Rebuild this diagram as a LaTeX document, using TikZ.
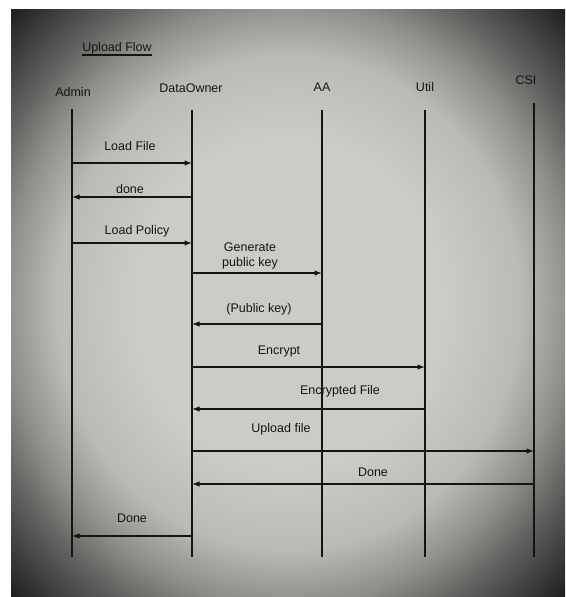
\documentclass[tikz,border=0pt]{standalone}
\usepackage{fontspec}
\setmainfont{Liberation Sans}
\usepackage{xcolor}
\usetikzlibrary{arrows.meta,positioning,calc}
\definecolor{ink}{HTML}{141414}
\definecolor{paperA}{HTML}{CBCBC7}
\definecolor{paperB}{HTML}{BBBBB6}
\definecolor{paperC}{HTML}{8E8E8A}
\definecolor{paperD}{HTML}{626260}
\definecolor{paperE}{HTML}{222222}
\definecolor{paperF}{HTML}{0A0A0A}
\pgfdeclareradialshading{vignette}{\pgfpoint{0bp}{0bp}}{color(0bp)=(paperA); color(14bp)=(paperA); color(21bp)=(paperB); color(25.5bp)=(paperC); color(29bp)=(paperD); color(35bp)=(paperE); color(50bp)=(paperF)}

\begin{document}
\begin{tikzpicture}[x=1pt,y=-1pt,
  lbl/.style={font=\fontsize{12.5}{15}\selectfont,text=ink,inner sep=0pt,align=center,anchor=base},
  life/.style={line width=1.4pt,color=ink},
  msg/.style={-{Latex[length=7.5pt,width=5.5pt]},line width=1.2pt,color=ink}]
  \useasboundingbox (0,0) rectangle (565,597);
  \shade[shading=vignette] (11,9) rectangle (565,597);
  \node[lbl] (title) at (117,51) {Upload Flow};
  \draw[ink,line width=1.1pt] (title.west |- 0,55) -- (title.east |- 0,55);
  % participants
  \node[lbl] (adm) at (73,96) {Admin};
  \node[lbl] (own) at (191,92) {DataOwner};
  \node[lbl] (aa) at (322,91) {AA};
  \node[lbl] (util) at (425,91) {Util};
  \node[lbl] (csi) at (526,84) {CSI};
  \foreach \n/\x/\t in {adm/72/109,own/192/110,aa/322/110,util/425/110,csi/534/103}{
    \coordinate (\n-t) at (\x,\t);
    \coordinate (\n-b) at (\x,557);
    \draw[life] (\n-t) -- (\n-b);
  }
  % messages
  \foreach \y/\a/\b in {163/adm/own,197/own/adm,243/adm/own,273/own/aa,324/aa/own,
    367/own/util,409/util/own,451/own/csi,484/csi/own,536/own/adm}
    \draw[msg] (\a-t |- 0,\y) -- (\b-t |- 0,\y);
  \node[lbl] (m1) at (130,150) {Load File};
  \node[lbl] (m2) at (130,193) {done};
  \node[lbl] (m3) at (137,234) {Load Policy};
  \node[lbl] (m4) at (250,266) {Generate\\public key};
  \node[lbl] (m5) at (259,312) {(Public key)};
  \node[lbl] (m6) at (279,354) {Encrypt};
  \node[lbl] (m7) at (340,394) {Encrypted File};
  \node[lbl] (m8) at (281,432) {Upload file};
  \node[lbl] (m9) at (373,476) {Done};
  \node[lbl] (m10) at (132,522) {Done};
\end{tikzpicture}
\end{document}
